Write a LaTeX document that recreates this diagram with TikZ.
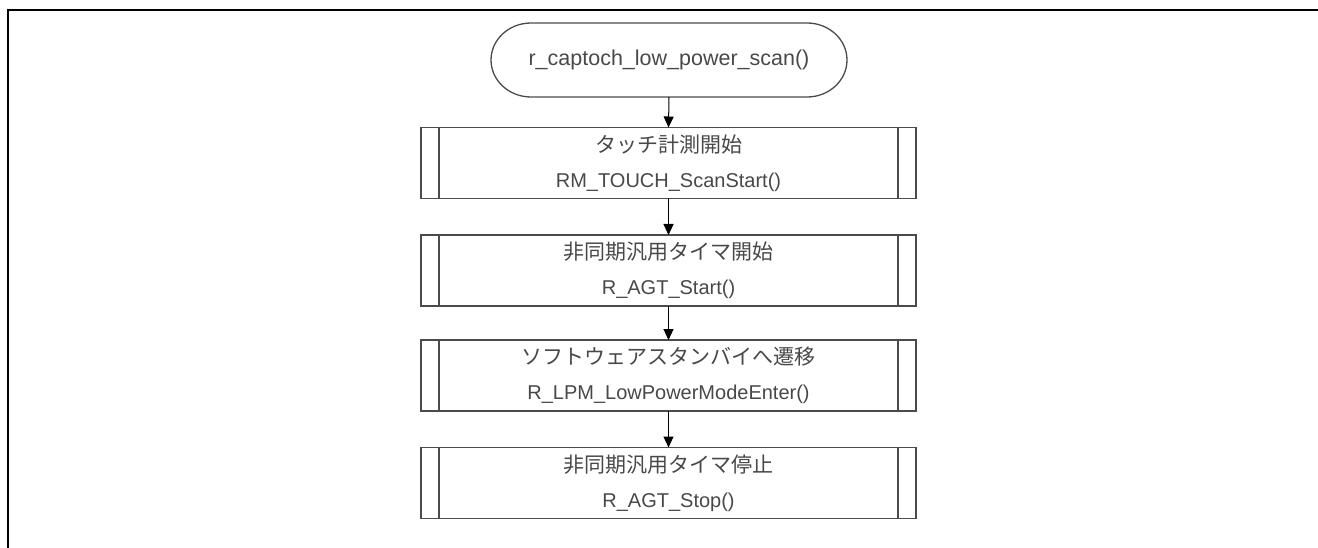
\documentclass[tikz,border=0pt]{standalone}
\usepackage{fontspec}
\setmainfont{Liberation Sans}
\newfontfamily\jp{Noto Sans CJK JP}
\usetikzlibrary{arrows.meta}
\definecolor{txt}{RGB}{72,72,72}
\definecolor{edge}{RGB}{75,75,75}
\newcommand{\jtxt}[1]{{\jp\fontsize{21}{34}\selectfont #1}}
\begin{document}
\begin{tikzpicture}[x=1pt,y=-1pt,
  every node/.style={inner sep=0pt, outer sep=0pt, text=txt},
  lbl/.style={font=\fontsize{20}{35}\selectfont, align=center},
  subproc/.style={draw=edge, line width=1.3pt, rectangle, lbl,
    minimum width=495pt, minimum height=71pt,
    path picture={
      \draw[edge, line width=1.3pt]
        ([xshift=18pt]path picture bounding box.north west) --
        ([xshift=18pt]path picture bounding box.south west)
        ([xshift=-18pt]path picture bounding box.north east) --
        ([xshift=-18pt]path picture bounding box.south east);
    }},
  flow/.style={draw=black, line width=1pt, -{Triangle[length=11pt,width=10pt]}}
]
\useasboundingbox (0,0) rectangle (1318,548);
% open frame: top and left edges
\draw[line width=2pt] (8,548) -- (8,10) -- (1318,10);

% terminal
\node[font=\fontsize{21.5}{26}\selectfont, minimum width=356pt, minimum height=74pt] (start) at (669,60) {r\_captoch\_low\_power\_scan()};
\draw[edge, line width=1.3pt]
  ([xshift=40pt]start.north west) -- ([xshift=-40pt]start.north east)
  arc[start angle=90, end angle=-90, x radius=40pt, y radius=37pt]
  -- ([xshift=40pt]start.south west)
  arc[start angle=270, end angle=90, x radius=40pt, y radius=37pt]
  -- cycle;

% subroutine steps
\node[subproc] (s1) at (668.5,163) {\jtxt{タッチ計測開始}\\RM\_TOUCH\_ScanStart()};
\node[subproc] (s2) at (668.5,270.5) {\jtxt{非同期汎用タイマ開始}\\R\_AGT\_Start()};
\node[subproc] (s3) at (668.5,375.5) {\jtxt{ソフトウェアスタンバイへ遷移}\\R\_LPM\_LowPowerModeEnter()};
\node[subproc] (s4) at (668.5,483) {\jtxt{非同期汎用タイマ停止}\\R\_AGT\_Stop()};

% connectors
\draw[flow] (start.south) -- (s1.north);
\draw[flow] (s1.south) -- (s2.north);
\draw[flow] (s2.south) -- (s3.north);
\draw[flow] (s3.south) -- (s4.north);
\end{tikzpicture}
\end{document}
